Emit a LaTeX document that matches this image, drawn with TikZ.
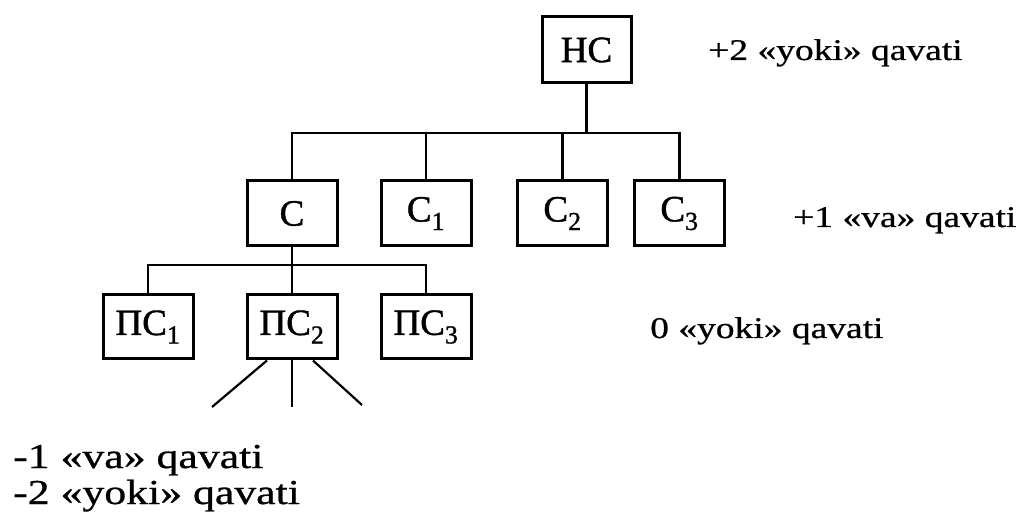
\documentclass[tikz,border=0pt]{standalone}
\usepackage{fontspec}
\setmainfont{Liberation Serif}
\newfontfamily\boxfont[FakeBold=1.2]{Liberation Serif}
\newfontfamily\lblfont[FakeStretch=1.25,FakeBold=0.8]{Liberation Serif}
\begin{document}
\begin{tikzpicture}[x=1pt,y=-1pt,
  box/.style={draw, line width=3pt, minimum width=90pt, minimum height=65pt, inner sep=0pt, font=\boxfont\fontsize{37}{40}\selectfont},
  wire/.style={line width=2.8pt},
  fan/.style={line width=2.2pt},
  lbl/.style={anchor=base west, inner sep=0pt, font=\lblfont\fontsize{30}{34}\selectfont},
  lblb/.style={anchor=base west, inner sep=0pt, font=\lblfont\fontsize{35}{40}\selectfont}]
\useasboundingbox (0,0) rectangle (1026,526);
% level +2
\node[box, minimum width=89pt, minimum height=66pt] (hc) at (586.5,50) {НС};
% level +1
\node[box] (c)  at (292,213.5) {С};
\node[box] (c1) at (426,213.5) {С\textsubscript{1}};
\node[box] (c2) at (562.5,213.5) {С\textsubscript{2}};
\node[box] (c3) at (679.5,213.5) {С\textsubscript{3}};
% level 0
\node[box, minimum height=64pt] (p1) at (148,327) {ПС\textsubscript{1}};
\node[box, minimum height=64pt] (p2) at (292,327) {ПС\textsubscript{2}};
\node[box, minimum height=64pt] (p3) at (426,327) {ПС\textsubscript{3}};
% buses
\coordinate (top) at (586.5,133);
\coordinate (mid) at (292,265);
\draw[wire] (hc.south) -- (top);
\draw[wire] (c.north) |- (c3.north |- top) -- (c3.north);
\draw[wire] (c1.north) -- (c1.north |- top);
\draw[wire] (c2.north) -- (c2.north |- top);
\draw[wire] (c.south) -- (p2.north);
\draw[wire] (p1.north) |- (p3.north |- mid) -- (p3.north);
% fan below PS2
\coordinate (f1) at (212,407);
\coordinate (f2) at (292,407);
\coordinate (f3) at (362,405);
\draw[fan] ([xshift=-25pt]p2.south) -- (f1);
\draw[fan] (p2.south) -- (f2);
\draw[fan] ([xshift=21pt]p2.south) -- (f3);
% labels
\node[lbl] (t2) at (708,60) {+2 «yoki» qavati};
\node[lbl] (t1) at (793,227) {+1 «va» qavati};
\node[lbl] (t0) at (650,338) {0 «yoki» qavati};
\node[lblb] (tm1) at (13,468) {-1 «va» qavati};
\node[lblb] (tm2) at (13,504) {-2 «yoki» qavati};
\end{tikzpicture}
\end{document}
